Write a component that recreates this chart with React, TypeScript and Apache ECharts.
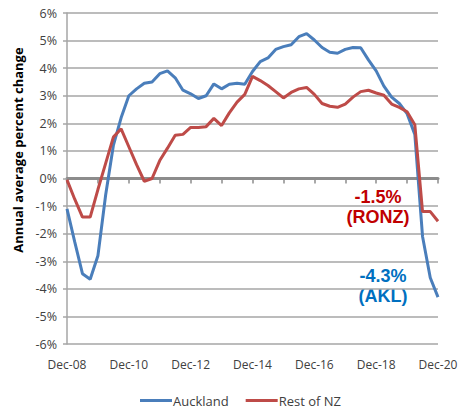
import React, { useEffect, useRef } from "react";
import * as echarts from "echarts";

const years = ["08", "09", "10", "11", "12", "13", "14", "15", "16", "17", "18", "19", "20"];
const quarterMonths = ["Mar", "Jun", "Sep", "Dec"];

// Quarterly categories, Dec-08 .. Dec-20
const categories: string[] = ["Dec-" + years[0]];
for (let i = 1; i < years.length; i++) {
  for (const m of quarterMonths) categories.push(m + "-" + years[i]);
}

const yTicks = [-6, -5, -4, -3, -2, -1, 0, 1, 2, 3, 4, 5, 6];

const auckland = [
  -1.1, -2.3, -3.45, -3.65, -2.8, -0.6, 1.2, 2.2, 3.0, 3.25, 3.45, 3.5, 3.8, 3.9, 3.65, 3.2,
  3.07, 2.9, 3.0, 3.43, 3.25, 3.42, 3.45, 3.42, 3.88, 4.24, 4.37, 4.68, 4.78, 4.85, 5.14, 5.25,
  5.02, 4.75, 4.58, 4.54, 4.68, 4.75, 4.74, 4.3, 3.9, 3.35, 2.95, 2.72, 2.35, 1.6, -2.1, -3.6, -4.3,
];

const restOfNZ = [
  -0.05, -0.75, -1.4, -1.4, -0.4, 0.55, 1.5, 1.8, 1.15, 0.5, -0.1, 0.0, 0.65, 1.1, 1.57, 1.6,
  1.85, 1.85, 1.88, 2.18, 1.92, 2.38, 2.77, 3.05, 3.7, 3.55, 3.37, 3.15, 2.92, 3.12, 3.25, 3.3,
  3.05, 2.72, 2.62, 2.58, 2.7, 2.95, 3.15, 3.2, 3.1, 3.02, 2.7, 2.58, 2.42, 1.95, -1.2, -1.2, -1.55,
];

const seriesNames = ["Auckland", "Rest of NZ"];
const annotations = [
  { lines: ["-1.5%", "(RONZ)"], color: "#C00000" },
  { lines: ["-4.3%", "(AKL)"], color: "#0070C0" },
];

const FONT = "'Open Sans', sans-serif";

export default function App() {
  const ref = useRef<HTMLDivElement>(null);

  useEffect(() => {
    if (!ref.current) return;
    const chart = echarts.init(ref.current, undefined, { renderer: "svg" });
    chart.setOption({
      animation: false,
      backgroundColor: "#ffffff",
      grid: { left: 67, right: 23, top: 13, bottom: 65, containLabel: false },
      legend: {
        data: seriesNames,
        left: 135,
        top: 389,
        icon: "rect",
        itemWidth: 32,
        itemHeight: 3,
        itemGap: 17,
        textStyle: { fontFamily: FONT, fontSize: 13, color: "#404040", padding: [0, 0, 0, -4] },
      },
      xAxis: [
        {
          type: "category",
          data: categories,
          boundaryGap: false,
          position: "bottom",
          axisLine: { show: false, onZero: false },
          axisTick: { show: false },
          splitLine: { show: false },
          axisLabel: {
            interval: 7,
            margin: 14,
            fontFamily: FONT,
            fontSize: 12,
            color: "#404040",
          },
        },
        {
          type: "category",
          data: categories,
          boundaryGap: false,
          position: "top",
          axisLine: { show: true, onZero: true, lineStyle: { color: "#8C8C8C", width: 3 } },
          axisTick: {
            show: true,
            inside: true,
            interval: 3,
            length: 5,
            lineStyle: { color: "#8C8C8C", width: 1.5 },
          },
          axisLabel: { show: false },
          splitLine: { show: false },
        },
      ],
      yAxis: {
        type: "value",
        min: -6,
        max: 6,
        interval: 1,
        axisLine: { show: true, lineStyle: { color: "#A6A6A6", width: 1.5 } },
        axisTick: { show: true, length: 4, lineStyle: { color: "#A6A6A6", width: 1.5 } },
        splitLine: { show: true, lineStyle: { color: "#A6A6A6", width: 1.5 } },
        axisLabel: {
          margin: 10,
          fontFamily: FONT,
          fontSize: 12.5,
          color: "#404040",
          formatter: (v: number) => (yTicks.includes(v) ? v + "%" : ""),
        },
      },
      series: [
        {
          name: seriesNames[0],
          type: "line",
          data: auckland,
          symbol: "none",
          color: "#4A7EBB",
          lineStyle: { color: "#4A7EBB", width: 3 },
          z: 3,
        },
        {
          name: seriesNames[1],
          type: "line",
          data: restOfNZ,
          symbol: "none",
          color: "#BE4B48",
          lineStyle: { color: "#BE4B48", width: 3 },
          z: 4,
        },
      ],
      graphic: [
        {
          type: "text",
          x: 18,
          y: 150,
          rotation: Math.PI / 2,
          style: {
            text: "Annual average percent change",
            fontFamily: FONT,
            fontWeight: "bold",
            fontSize: 13,
            fill: "#000000",
            textAlign: "center",
            textVerticalAlign: "middle",
          },
        },
        {
          type: "text",
          x: 378,
          y: 207,
          style: {
            text: annotations[0].lines.join("\n"),
            fontFamily: "'Liberation Sans', Arial, sans-serif",
            fontWeight: "bold",
            fontSize: 18,
            lineHeight: 20,
            fill: annotations[0].color,
            textAlign: "center",
            textVerticalAlign: "middle",
          },
        },
        {
          type: "text",
          x: 383,
          y: 286,
          style: {
            text: annotations[1].lines.join("\n"),
            fontFamily: "'Liberation Sans', Arial, sans-serif",
            fontWeight: "bold",
            fontSize: 18,
            lineHeight: 20,
            fill: annotations[1].color,
            textAlign: "center",
            textVerticalAlign: "middle",
          },
        },
      ],
    });
    return () => chart.dispose();
  }, []);

  return <div ref={ref} style={{ width: 461, height: 409, position: "absolute", left: 0, top: 0 }} />;
}
